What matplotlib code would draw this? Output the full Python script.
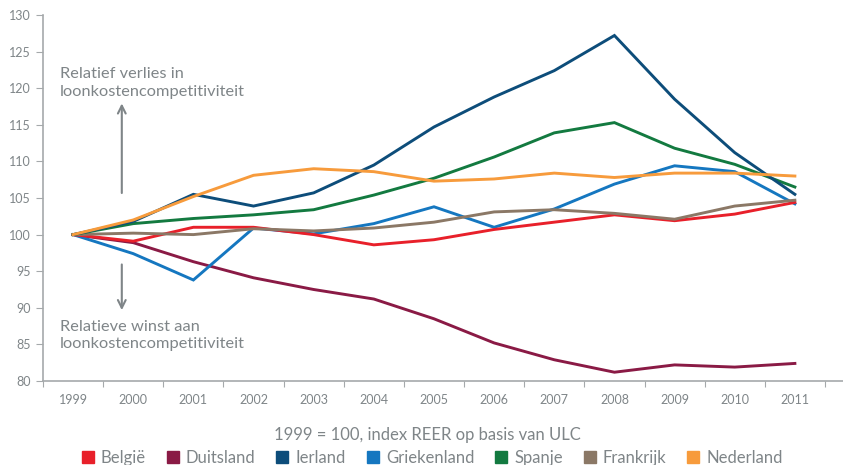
import matplotlib.pyplot as plt
from matplotlib.lines import Line2D
import numpy as np

plt.rcParams['font.family'] = ['Lato', 'DejaVu Sans']

jaren = ['1999', '2000', '2001', '2002', '2003', '2004', '2005',
         '2006', '2007', '2008', '2009', '2010', '2011']

belgie = [100, 99.1, 101.0, 101.0, 100.0, 98.6, 99.3, 100.7, 101.7, 102.7, 101.9, 102.8, 104.4]
duitsland = [100, 98.9, 96.3, 94.1, 92.5, 91.2, 88.5, 85.2, 82.9, 81.2, 82.2, 81.9, 82.4]
ierland = [100, 101.8, 105.5, 103.9, 105.7, 109.5, 114.7, 118.8, 122.4, 127.2, 118.5, 111.2, 105.5]
griekenland = [100, 97.4, 93.8, 100.9, 100.1, 101.5, 103.8, 101.0, 103.5, 106.9, 109.4, 108.6, 104.2]
spanje = [100, 101.5, 102.2, 102.7, 103.4, 105.4, 107.7, 110.6, 113.9, 115.3, 111.8, 109.6, 106.5]
frankrijk = [100, 100.2, 100.0, 100.8, 100.5, 100.9, 101.7, 103.1, 103.4, 102.9, 102.1, 103.9, 104.7]
nederland = [100, 102.0, 105.2, 108.1, 109.0, 108.6, 107.3, 107.6, 108.4, 107.8, 108.4, 108.4, 108.0]

namen = ['België', 'Duitsland', 'Ierland', 'Griekenland', 'Spanje', 'Frankrijk', 'Nederland']
reeksen = [belgie, duitsland, ierland, griekenland, spanje, frankrijk, nederland]
kleuren = ['#E8202A', '#8A1A45', '#0D4D7A', '#1577C0', '#137A40', '#8B7866', '#F79B3C']

grijs = '#7F8588'
as_grijs = '#A5A9AB'

fig = plt.figure(figsize=(8.43, 4.65), dpi=100)
ax = fig.add_axes([43 / 843, 1 - 381 / 465, 800 / 843, 366 / 465])

x = np.arange(len(jaren))
# lijnen in volgorde zodat de oranje bovenop ligt
volgorde = [1, 3, 0, 5, 4, 2, 6]
for i in volgorde:
    ax.plot(x, reeksen[i], color=kleuren[i], lw=2.1, solid_joinstyle='miter')

ax.set_xlim(-0.5, len(jaren) - 0.2)
ax.set_ylim(80, 130)
ax.set_yticks(np.arange(80, 131, 5))
ax.set_xticks(np.arange(-0.5, len(jaren), 1))
ax.set_xticklabels([])
ax.set_xticks(x, minor=True)
ax.set_xticklabels(jaren, minor=True)
ax.tick_params(axis='x', which='major', length=4, color=as_grijs)
ax.tick_params(axis='x', which='minor', length=0, pad=9, labelsize=9, labelcolor=grijs)
ax.tick_params(axis='y', length=5, color=as_grijs, labelsize=9, labelcolor=grijs, pad=4)

for s in ['top', 'right']:
    ax.spines[s].set_visible(False)
for s in ['left', 'bottom']:
    ax.spines[s].set_color(as_grijs)
    ax.spines[s].set_linewidth(1.2)

# annotaties
ax.text(-0.22, 120.7, 'Relatief verlies in\nloonkostencompetitiviteit',
        fontsize=11.8, color=grijs, va='center', ha='left', linespacing=1.3)
ax.annotate('', xy=(0.81, 118.3), xytext=(0.81, 105.3),
            arrowprops=dict(arrowstyle='->', color=grijs, lw=1.5, mutation_scale=14))
ax.text(-0.22, 86.2, 'Relatieve winst aan\nloonkostencompetitiviteit',
        fontsize=11.8, color=grijs, va='center', ha='left', linespacing=1.3)
ax.annotate('', xy=(0.81, 89.3), xytext=(0.81, 96.3),
            arrowprops=dict(arrowstyle='->', color=grijs, lw=1.5, mutation_scale=14))

fig.text(427 / 843, 1 - 435 / 465, '1999 = 100, index REER op basis van ULC',
         fontsize=12, color=grijs, ha='center', va='center')

handles = [Line2D([], [], marker='s', ls='', color=c, markersize=9) for c in kleuren]
fig.legend(handles, namen, loc='center', bbox_to_anchor=(431 / 843, 1 - 458 / 465),
           ncol=7, frameon=False, fontsize=12, labelcolor=grijs,
           handletextpad=0.3, columnspacing=1.1, handlelength=1.0)

fig.savefig('out.png', dpi=100)
